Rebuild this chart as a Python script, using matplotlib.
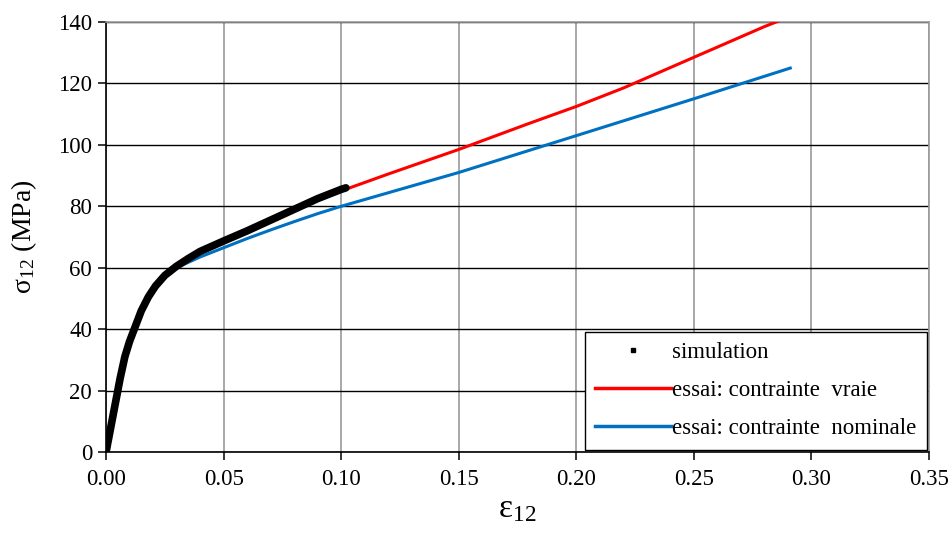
import numpy as np
import matplotlib
matplotlib.use("Agg")
import matplotlib.pyplot as plt
from matplotlib.lines import Line2D

plt.rcParams['font.family'] = ['Liberation Serif', 'DejaVu Serif']
plt.rcParams['mathtext.fontset'] = 'stix'

# simulation points
sim_eps = [0.0, 0.002, 0.004, 0.006, 0.008, 0.010, 0.012, 0.015, 0.018, 0.021,
           0.025, 0.030, 0.035, 0.040, 0.050, 0.060, 0.070, 0.080, 0.090, 0.100, 0.102]
sim_sig = [0.0, 8, 16, 24, 31, 36, 40, 46, 50.5, 54,
           57.5, 60.5, 63, 65.3, 68.7, 72, 75.5, 79, 82.5, 85.5, 86]

# essai: contrainte vraie
vraie_eps = [0.0, 0.004, 0.008, 0.012, 0.018, 0.025, 0.030, 0.040, 0.050, 0.060, 0.070,
             0.080, 0.090, 0.100, 0.120, 0.150, 0.180, 0.200, 0.220, 0.250, 0.280, 0.290]
vraie_sig = [0.0, 16, 31, 40, 50.5, 57.5, 60.5, 65.5, 68.5, 72, 75.5,
             79, 82, 85, 90.5, 98.5, 107, 112.5, 118.5, 128.5, 138.5, 141.5]

# essai: contrainte nominale
nom_eps = [0.0, 0.004, 0.008, 0.012, 0.018, 0.025, 0.030, 0.040, 0.050, 0.060, 0.070,
           0.080, 0.090, 0.100, 0.150, 0.200, 0.250, 0.291]
nom_sig = [0.0, 16, 31, 40, 50, 57, 60, 63.5, 66.5, 69.5, 72.3,
           75, 77.6, 80, 91, 103, 115, 125]

fig = plt.figure(figsize=(9.51, 5.35), dpi=100)
ax = fig.add_axes([0.1115, 0.1551, 0.8654, 0.8038])

ax.plot(nom_eps, nom_sig, color='#0070c0', lw=2.2, zorder=3)
ax.plot(vraie_eps, vraie_sig, color='#ff0000', lw=2.2, zorder=4)
ax.plot(sim_eps, sim_sig, color='black', lw=5.5, solid_capstyle='round', zorder=5)

ax.set_xlim(0, 0.35)
ax.set_ylim(0, 140)
ax.set_xticks(np.arange(0, 0.351, 0.05))
ax.set_yticks(np.arange(0, 141, 20))
ax.set_xticklabels(['%.2f' % v for v in np.arange(0, 0.351, 0.05)])

ax.grid(axis='y', color='black', lw=1.0)
ax.grid(axis='x', color='#9a9a9a', lw=1.2)
ax.set_axisbelow(True)
for s in ['top', 'right']:
    ax.spines[s].set_color('#9a9a9a')
    ax.spines[s].set_linewidth(1.2)
for s in ['left', 'bottom']:
    ax.spines[s].set_color('black')
    ax.spines[s].set_linewidth(1.2)
ax.tick_params(axis='both', direction='out', length=6, width=1.1, labelsize=16.5, colors='black')
ax.tick_params(axis='x', pad=6)
ax.tick_params(axis='y', pad=4)

ax.set_xlabel(r'$\mathregular{\varepsilon}$' + r'$_{\mathregular{12}}$', fontsize=24, labelpad=3)
ax.set_ylabel(r'$\mathregular{\sigma}$' + r'$_{\mathregular{12}}$' + ' (MPa)', fontsize=20, labelpad=14)

handles = [Line2D([], [], marker='s', ms=3.5, ls='none', color='black'),
           Line2D([], [], color='#ff0000', lw=2.5),
           Line2D([], [], color='#0070c0', lw=2.5)]
labels = ['simulation', 'essai: contrainte  vraie', 'essai: contrainte  nominale']
leg = ax.legend(handles, labels, loc='lower right', fontsize=16.5, frameon=True, fancybox=False,
                edgecolor='black', framealpha=1, handlelength=3.3, handletextpad=0.05,
                borderaxespad=0.1, labelspacing=0.75, borderpad=0.45)
leg.get_frame().set_linewidth(1.0)

fig.savefig('out.png', dpi=100)
